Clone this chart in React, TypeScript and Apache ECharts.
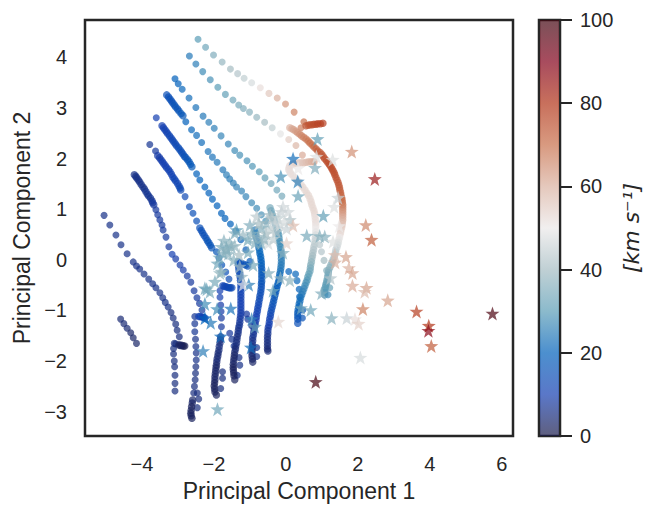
import * as echarts from "echarts";
import { useEffect, useRef } from "react";

type Pt = [number, number, number];

const xTicks = [-4, -2, 0, 2, 4, 6];
const yTicks = [-3, -2, -1, 0, 1, 2, 3, 4];
const barTicks = [0, 20, 40, 60, 80, 100];
const balance = ["#1b1b49", "#143eb1", "#0060ba", "#5a9db6", "#a5bcc2", "#ebe8e8", "#dab1a0", "#c86f4a", "#b13317", "#83001a", "#420611"];

// sparse tracks, [pc1, pc2, speed]
const trackA: Pt[] = [[-2.44,4.36,30],[-2.23,4.2,33],[-2.01,4.05,35],[-1.77,3.91,38],[-1.54,3.77,40],[-1.34,3.68,42],[-1.16,3.59,44],[-0.95,3.5,47],[-0.71,3.4,52],[-0.47,3.29,56],[-0.24,3.2,60],[-0.01,3.08,64],[0.23,2.92,67],[0.5,2.73,70],[0.42,2.61,68]];
const trackB: Pt[] = [[-2.68,4.03,24],[-2.5,3.87,25],[-2.31,3.72,27],[-2.1,3.56,28],[-1.89,3.41,30],[-1.68,3.27,31],[-1.47,3.16,33],[-1.31,3.06,34],[-1.18,2.99,35],[-1.01,2.92,36],[-0.81,2.82,38],[-0.59,2.72,40],[-0.38,2.61,44],[-0.15,2.49,49],[0.08,2.38,55],[0.28,2.26,59],[0.46,2.07,61]];
const trackC: Pt[] = [[-3.08,3.58,20],[-2.99,3.48,20],[-2.88,3.37,21],[-2.69,3.2,22],[-2.5,3.01,23],[-2.3,2.84,24],[-2.14,2.72,25],[-1.99,2.6,25],[-1.8,2.45,26],[-1.6,2.29,26],[-1.42,2.16,27],[-1.28,2.07,28],[-1.08,1.96,28],[-0.93,1.85,29],[-0.74,1.74,30],[-0.58,1.62,31],[-0.41,1.51,32],[-0.25,1.38,33],[-0.11,1.26,34]];
const trackCTail: Pt[] = [[0.08,-0.23,20],[0.27,-0.28,21],[0.31,-0.41,21],[0.37,-0.58,20],[0.38,-0.73,20],[0.47,-0.99,17],[0.46,-1.15,16]];
const trackArcSide: Pt[] = [[0.94,0.3,43],[0.99,0.16,42],[1.06,-0.01,40],[1.13,-0.21,36],[1.17,-0.4,34],[1.22,-0.55,32],[1.17,-0.69,27]];
const trackI: Pt[] = [[-4.59,-1.17,4],[-4.5,-1.26,4],[-4.41,-1.35,4],[-4.31,-1.44,3],[-4.24,-1.54,3],[-4.15,-1.65,3]];
const trackJ: Pt[] = [[-5.05,0.88,6],[-4.89,0.69,6],[-4.72,0.49,6],[-4.58,0.3,6],[-4.41,0.12,6],[-4.24,-0.04,6],[-4.15,-0.12,6],[-4.06,-0.18,6],[-3.94,-0.28,6],[-3.81,-0.38,6],[-3.7,-0.47,6],[-3.61,-0.55,6],[-3.5,-0.65,6],[-3.42,-0.75,6],[-3.35,-0.84,6],[-3.27,-0.93,6],[-3.19,-1.04,5],[-3.13,-1.15,5],[-3.06,-1.27,5],[-3.02,-1.39,5],[-2.96,-1.52,5],[-3.06,-1.66,5],[-3.1,-1.65,5],[-3.12,-1.75,5],[-3.12,-1.86,5],[-3.1,-2,5],[-3.09,-2.11,5],[-3.08,-2.28,5],[-3.08,-2.44,5],[-3.08,-2.59,5]];
const trackN: Pt[] = [[-3.61,0.99,8],[-3.56,0.89,8],[-3.5,0.79,8],[-3.44,0.69,8],[-3.41,0.59,8],[-3.33,0.45,8],[-3.25,0.26,8],[-3.16,0.11,10],[-3.06,0.02,9],[-2.94,-0.1,9],[-2.85,-0.2,9],[-2.74,-0.32,8],[-2.64,-0.44,8],[-2.55,-0.61,8],[-2.47,-0.75,8],[-2.4,-0.86,8],[-2.33,-0.99,8],[-2.53,-1.12,7],[-2.53,-1.26,7],[-2.53,-1.42,7],[-2.51,-1.57,6],[-2.5,-1.71,6],[-2.49,-1.84,6],[-2.49,-1.98,6],[-2.5,-2.11,5],[-2.51,-2.24,5],[-2.52,-2.37,5],[-2.54,-2.5,5],[-2.56,-2.63,5],[-2.46,-2.63,5],[-2.42,-2.75,5],[-2.46,-2.92,5]];
const trackK: Pt[] = [[-3.78,2.28,7],[-3.62,2.15,8],[-2.8,1.25,13],[-2.68,1.05,14],[-2.58,0.92,15],[-2.48,0.77,15],[-1.93,0.16,17],[-1.86,0.04,17],[-1.78,-0.1,16],[-1.67,-0.24,15],[-1.58,-0.38,14],[-1.83,-0.61,10],[-1.83,-0.74,10],[-1.81,-0.89,9],[-1.8,-1.02,9],[-1.79,-1.15,8],[-1.79,-1.32,8],[-1.76,-2.21,5],[-1.76,-2.34,5],[-1.81,-2.54,5]];
const trackL: Pt[] = [[-3.6,2.81,10],[-2.48,1.7,20],[-2.39,1.58,20],[-2.25,1.44,20],[-2.14,1.32,20],[-2.04,1.2,20],[-1.91,1.07,20],[-1.79,0.92,20],[-1.69,0.82,20],[-1.54,0.71,20],[-1.39,0.57,19],[-1.25,0.4,19],[-1.11,0.2,18],[-1,-0.03,18],[-1.56,-1.45,8],[-1.5,-1.57,7],[-1.44,-1.7,7],[-1.3,-1.93,6],[-1.28,-2.08,6],[-1.35,-2.28,6]];
const trackM: Pt[] = [[-2.78,2.73,20],[-2.62,2.57,21],[-2.48,2.46,22],[-2.34,2.32,22],[-2.16,2.14,23],[-2.04,2.03,23],[-1.91,1.93,24],[-1.75,1.78,24],[-1.65,1.68,25],[-1.56,1.6,25],[-1.46,1.52,25],[-1.37,1.44,26],[-1.23,1.36,26],[-1.11,1.25,26],[-0.95,1.13,27],[-0.81,1.02,27],[-0.68,0.89,28],[-0.56,0.77,28],[-1.09,-1.07,8],[-1.06,-1.17,8],[-0.95,-1.3,7],[-0.81,-1.73,7],[-0.81,-1.91,6]];

// dense stretches of the same runs
const thickArc: Pt[] = [[0.11,2.61,60],[0.17,2.59,61],[0.22,2.57,62],[0.28,2.54,63],[0.33,2.51,64],[0.39,2.48,65],[0.44,2.45,66],[0.5,2.42,67],[0.56,2.39,68],[0.62,2.35,69],[0.67,2.31,70],[0.73,2.27,70],[0.78,2.23,71],[0.84,2.19,72],[0.89,2.15,73],[0.95,2.12,73],[1,2.08,74],[1.04,2.04,74],[1.08,2,75],[1.13,1.96,75],[1.17,1.92,76],[1.21,1.88,76],[1.25,1.84,76],[1.28,1.8,76],[1.31,1.76,76],[1.34,1.72,75],[1.36,1.68,75],[1.39,1.63,75],[1.42,1.58,75],[1.45,1.53,74],[1.47,1.48,74],[1.49,1.43,73],[1.5,1.38,73],[1.52,1.33,72],[1.53,1.28,72],[1.55,1.23,71],[1.56,1.19,71],[1.57,1.14,70],[1.58,1.09,69],[1.58,1.04,67],[1.58,0.99,66],[1.58,0.94,64],[1.58,0.89,63],[1.58,0.84,61],[1.58,0.79,60],[1.57,0.74,58],[1.56,0.69,57],[1.55,0.64,55],[1.53,0.59,54],[1.52,0.54,53],[1.5,0.49,52],[1.49,0.44,50],[1.47,0.4,49],[1.46,0.35,48],[1.44,0.3,47],[1.42,0.25,46],[1.39,0.2,45],[1.38,0.15,44],[1.36,0.1,43],[1.34,0.05,42],[1.31,0,41],[1.28,-0.05,39],[1.25,-0.1,38],[1.22,-0.15,37],[1.19,-0.2,36],[1.18,-0.25,35],[1.17,-0.3,34],[1.16,-0.35,33],[1.14,-0.4,33],[1.13,-0.45,32],[1.11,-0.49,31],[1.1,-0.54,30],[1.08,-0.59,30],[1.08,-0.64,29],[1.08,-0.69,28]];
const thickRed: Pt[] = [[0.56,2.65,74],[0.62,2.66,74],[0.67,2.67,75],[0.73,2.67,75],[0.78,2.68,76],[0.84,2.68,76],[0.89,2.69,77],[0.96,2.69,77],[1.03,2.7,78]];
const thickInner: Pt[] = [[0.78,1.94,62],[0.71,1.94,61],[0.64,1.94,60],[0.57,1.93,59],[0.5,1.92,58],[0.43,1.92,57],[0.36,1.92,56],[0.29,1.91,55],[0.22,1.9,55],[0.16,1.88,54],[0.11,1.86,53],[0.09,1.82,52],[0.08,1.78,52],[0.11,1.74,52],[0.14,1.7,52],[0.2,1.66,52],[0.25,1.62,52],[0.3,1.58,52],[0.36,1.54,52],[0.42,1.49,52],[0.47,1.44,53],[0.53,1.38,53],[0.58,1.32,53],[0.63,1.27,53],[0.67,1.21,53],[0.7,1.15,53],[0.72,1.09,53],[0.75,1.03,53],[0.78,0.97,53],[0.8,0.91,53],[0.81,0.85,52],[0.82,0.79,52],[0.83,0.73,52],[0.83,0.67,51],[0.83,0.61,50],[0.83,0.55,49],[0.83,0.49,47],[0.82,0.44,46],[0.81,0.38,45],[0.8,0.32,44],[0.78,0.26,43],[0.77,0.2,42],[0.75,0.14,41],[0.74,0.08,40],[0.72,0.02,39],[0.71,-0.04,37],[0.69,-0.1,36],[0.68,-0.16,34],[0.67,-0.22,33],[0.64,-0.28,31],[0.61,-0.34,30],[0.59,-0.4,29],[0.56,-0.45,28],[0.53,-0.51,27],[0.5,-0.57,26],[0.47,-0.63,25],[0.44,-0.69,24],[0.41,-0.75,23],[0.39,-0.81,22],[0.37,-0.87,21],[0.36,-0.93,20],[0.34,-0.99,19],[0.33,-1.05,18],[0.33,-1.11,17],[0.33,-1.17,16],[0.33,-1.25,15]];
const thickD: Pt[] = [[-0.86,0.59,25],[-0.85,0.53,25],[-0.83,0.47,24],[-0.8,0.41,23],[-0.78,0.36,23],[-0.76,0.3,22],[-0.75,0.24,22],[-0.73,0.18,21],[-0.72,0.12,21],[-0.7,0.06,20],[-0.69,0,20],[-0.68,-0.06,19],[-0.68,-0.12,19],[-0.67,-0.18,18],[-0.67,-0.24,18],[-0.67,-0.3,17],[-0.67,-0.36,17],[-0.67,-0.42,16],[-0.68,-0.47,16],[-0.68,-0.53,15],[-0.69,-0.59,15],[-0.7,-0.65,14],[-0.72,-0.71,14],[-0.73,-0.77,13],[-0.75,-0.83,13],[-0.76,-0.89,12],[-0.78,-0.95,12],[-0.79,-1.01,11],[-0.81,-1.07,11],[-0.82,-1.13,10],[-0.83,-1.19,10],[-0.85,-1.25,9],[-0.86,-1.3,9],[-0.88,-1.36,8],[-0.89,-1.42,8],[-0.9,-1.48,7],[-0.92,-1.54,7],[-0.92,-1.6,6],[-0.93,-1.66,6],[-0.93,-1.72,5],[-0.94,-1.78,5],[-0.94,-1.84,4],[-0.94,-1.9,4],[-0.93,-1.96,3],[-0.92,-2.02,3]];
const thickE: Pt[] = [[-0.44,1.03,34],[-0.41,0.97,33],[-0.39,0.91,33],[-0.36,0.85,32],[-0.33,0.79,32],[-0.3,0.73,31],[-0.28,0.67,31],[-0.25,0.61,30],[-0.22,0.55,30],[-0.2,0.49,29],[-0.19,0.43,29],[-0.18,0.37,28],[-0.17,0.32,28],[-0.15,0.26,27],[-0.14,0.2,27],[-0.13,0.14,26],[-0.125,0.08,26],[-0.125,0.02,25],[-0.125,-0.04,25],[-0.13,-0.1,24],[-0.14,-0.16,24],[-0.15,-0.22,23],[-0.17,-0.28,22],[-0.18,-0.34,21],[-0.19,-0.4,20],[-0.21,-0.45,19],[-0.24,-0.51,19],[-0.26,-0.57,18],[-0.28,-0.63,18],[-0.3,-0.69,17],[-0.32,-0.75,17],[-0.34,-0.81,16],[-0.36,-0.87,16],[-0.38,-0.93,15],[-0.4,-0.99,14],[-0.42,-1.05,13],[-0.43,-1.11,12],[-0.45,-1.17,11],[-0.46,-1.23,11],[-0.47,-1.29,10],[-0.49,-1.34,9],[-0.5,-1.4,8],[-0.5,-1.46,7],[-0.51,-1.52,6],[-0.51,-1.58,6],[-0.51,-1.64,5],[-0.51,-1.7,5],[-0.51,-1.76,4],[-0.5,-1.8,4]];
const thickF: Pt[] = [[-1.06,-0.12,16],[-1.12,-0.1,16],[-1.19,-0.08,16],[-1.26,-0.06,15],[-1.33,-0.04,15],[-1.32,-0.1,15],[-1.31,-0.16,14],[-1.3,-0.22,14],[-1.28,-0.28,14],[-1.27,-0.34,13],[-1.26,-0.4,13],[-1.25,-0.45,13],[-1.25,-0.51,13],[-1.25,-0.57,12],[-1.25,-0.63,12],[-1.25,-0.69,11],[-1.25,-0.75,11],[-1.25,-0.81,10],[-1.25,-0.87,10],[-1.25,-0.93,10],[-1.25,-0.99,10],[-1.25,-1.05,9],[-1.26,-1.11,9],[-1.27,-1.17,8],[-1.28,-1.23,8],[-1.29,-1.29,7],[-1.31,-1.34,7],[-1.32,-1.4,6],[-1.33,-1.46,6],[-1.35,-1.52,5],[-1.36,-1.58,5],[-1.37,-1.64,5],[-1.39,-1.7,5],[-1.4,-1.76,4],[-1.42,-1.82,4],[-1.43,-1.88,3],[-1.44,-1.94,3],[-1.45,-2,3],[-1.46,-2.06,3],[-1.46,-2.12,2],[-1.46,-2.17,2],[-1.45,-2.23,2],[-1.44,-2.29,2],[-1.42,-2.37,2]];
const thickG: Pt[] = [[-1.81,-1.52,6],[-1.82,-1.58,6],[-1.83,-1.64,5],[-1.85,-1.71,5],[-1.86,-1.78,5],[-1.88,-1.84,4],[-1.89,-1.9,4],[-1.91,-1.96,4],[-1.92,-2.02,4],[-1.93,-2.08,3],[-1.94,-2.13,3],[-1.95,-2.19,3],[-1.96,-2.25,3],[-1.97,-2.31,3],[-1.97,-2.37,3],[-1.98,-2.43,2],[-1.99,-2.49,2],[-1.98,-2.55,2],[-1.97,-2.61,2],[-1.93,-2.67,2]];
const thickH: Pt[] = [[-2.59,-2.77,3],[-2.6,-2.83,3],[-2.62,-2.9,2],[-2.63,-2.97,2],[-2.64,-3.03,2],[-2.63,-3.08,2],[-2.61,-3.13,2]];
const thickHook: Pt[] = [[-2.81,-1.7,1],[-2.85,-1.7,1],[-2.89,-1.69,1],[-2.93,-1.69,2],[-2.97,-1.68,2]];
const thickN: Pt[] = [[-4.21,1.68,6],[-4.17,1.65,6],[-4.14,1.62,6],[-4.1,1.58,6],[-4.06,1.54,6],[-4.02,1.49,6],[-3.97,1.44,6],[-3.93,1.4,6],[-3.89,1.35,7],[-3.85,1.3,7],[-3.81,1.26,7],[-3.76,1.22,7],[-3.72,1.17,7],[-3.7,1.13,8],[-3.67,1.09,8]];
const thickNHook: Pt[] = [[-2.25,-1.15,12],[-2.29,-1.14,12],[-2.33,-1.13,12],[-2.38,-1.12,11],[-2.42,-1.12,11]];
const thickK: Pt[] = [[-3.56,2.06,9],[-3.51,2.02,9],[-3.47,1.98,9],[-3.43,1.94,10],[-3.39,1.9,10],[-3.35,1.86,10],[-3.31,1.82,10],[-3.26,1.78,11],[-3.22,1.74,11],[-3.18,1.69,11],[-3.14,1.64,11],[-3.1,1.6,12],[-3.06,1.56,12],[-3.01,1.51,12],[-2.97,1.46,12],[-2.94,1.42,13],[-2.92,1.38,13]];
const thickK2: Pt[] = [[-2.39,0.63,15],[-2.35,0.58,15],[-2.31,0.53,15],[-2.27,0.48,15],[-2.22,0.43,15],[-2.18,0.38,16],[-2.14,0.34,16],[-2.1,0.29,16],[-2.06,0.24,16]];
const thickKHook: Pt[] = [[-1.5,-0.55,13],[-1.54,-0.55,13],[-1.58,-0.55,13],[-1.62,-0.54,13],[-1.67,-0.53,13],[-1.71,-0.52,12],[-1.75,-0.51,12]];
const thickL: Pt[] = [[-3.44,2.65,10],[-3.4,2.61,10],[-3.36,2.57,11],[-3.32,2.53,11],[-3.28,2.49,11],[-3.23,2.45,12],[-3.19,2.41,12],[-3.15,2.37,12],[-3.11,2.33,13],[-3.07,2.29,13],[-3.03,2.25,13],[-2.98,2.21,14],[-2.94,2.17,14],[-2.9,2.13,14],[-2.86,2.09,15],[-2.82,2.05,15],[-2.78,2.02,16],[-2.73,1.98,16],[-2.69,1.94,17],[-2.65,1.89,17],[-2.61,1.84,18]];
const thickM: Pt[] = [[-3.31,3.26,15],[-3.26,3.22,15],[-3.22,3.18,15],[-3.18,3.14,15],[-3.14,3.1,15],[-3.1,3.06,16],[-3.06,3.02,16],[-3.01,2.98,16],[-2.97,2.94,16],[-2.91,2.89,17],[-2.86,2.85,17]];

const stars: Pt[] = [[5.74,-1.06,98],[0.83,-2.41,99],[2.47,1.6,85],[1.83,2.14,65],[2.22,0.69,66],[2.38,0.4,73],[1.67,0.06,62],[1.37,-0.05,60],[1.75,-0.16,60],[1.85,-0.26,62],[1.85,-0.51,61],[2.24,-0.55,62],[2.19,-0.63,58],[2.83,-0.8,62],[2.14,-0.97,67],[3.63,-1.02,78],[3.97,-1.3,80],[3.96,-1.4,88],[4.04,-1.7,73],[2.07,-1.93,47],[1.27,-1.15,36],[1.69,-1.15,45],[1.92,-1.17,52],[2.02,-1.26,54],[0.69,-0.99,33],[0.42,-0.95,34],[-0.21,-1.22,53],[0.99,-0.66,35],[1.24,-0.36,42],[0.11,-0.4,37],[-0.15,-0.36,38],[-0.36,-0.61,33],[-0.48,-0.26,35],[-1.03,-0.49,25],[-0.86,-1.32,32],[-0.95,-1.17,25],[-0.97,-1.73,22],[-1.9,-2.95,33],[-2.3,-1.8,25],[-1.81,-1.51,22],[-2.09,-1.24,24],[-2.25,-1.15,20],[-1.91,-0.97,27],[-1.53,-0.96,23],[-2.25,-0.87,27],[-2.2,-0.58,32],[-1.97,-0.43,34],[-1.83,-0.26,37],[-1.9,-0.07,33],[-1.74,0.13,35],[-1.56,0.33,37],[-1.65,0.23,34],[-1.37,0.59,30],[-1,0.69,35],[0.2,2,22],[-0.14,1.65,28],[0.33,1.55,25],[0.34,1.26,32],[-0.81,0.86,43],[-0.08,1.05,46],[0.11,0.79,41],[0.2,0.68,58],[-0.44,0.89,40],[-1.42,0.53,35],[0.88,2.39,31],[1.3,1.98,48],[0.85,2.04,48],[0.81,1.82,35],[0.34,1.81,50],[1.45,1.23,45],[1.34,1.05,48],[1.04,0.87,31],[1.48,0.67,50],[0.58,0.48,34],[0.94,0.47,36],[1.08,0.46,36],[1.31,0.36,48],[0.02,0.33,54],[-0.08,0.14,36],[1.36,0.1,58],[-1.79,0.26,35],[-1.51,0.26,36],[-1.65,0.2,37],[-1.79,-0.23,37],[-2.25,-0.56,32],[-2.11,-0.63,34],[-1.28,-0.13,40],[-1.23,-0.33,38],[-0.91,-0.1,34],[-0.68,0.33,36],[-0.49,0.33,47],[-0.77,0.46,38],[-0.54,0.73,38],[-0.26,0.56,42],[-0.12,0.95,45],[0.06,0.95,46],[-1.19,0.49,38],[-1.19,-0.49,50],[-0.17,0.69,47],[-0.67,0.63,36],[-0.39,0.83,42],[-0.22,0.83,44],[-0.86,0.34,36],[-1.06,0.4,34],[-1.72,0.38,36],[-1.6,0.12,36],[-1.42,0.28,38],[-1.85,0.05,34],[-0.55,0.52,40],[-0.42,0.6,44],[-0.6,0.42,38],[-0.3,0.72,46],[-0.75,0.72,40],[-0.05,0.75,47],[0.02,0.62,45],[-0.95,0.52,37],[-1.3,0.1,40],[-1.45,0,36],[-1.05,0.15,34],[-0.35,0.42,44]];

const dots = [...trackA, ...trackB, ...trackC, ...trackCTail, ...trackArcSide, ...trackI, ...trackJ, ...trackN, ...trackK, ...trackL, ...trackM];
const thick = [...thickArc, ...thickRed, ...thickInner, ...thickD, ...thickE, ...thickF, ...thickG, ...thickH, ...thickHook, ...thickN, ...thickNHook, ...thickK, ...thickK2, ...thickKHook, ...thickL, ...thickM];

const starPath = "path://M50 2 L62 36 L98 37 L69 58 L80 94 L50 73 L20 94 L31 58 L2 37 L38 36 Z";
const ink = "#262626";
const font = "Liberation Sans";
const minus = (v: number) => String(v).replace("-", "\u2212");

export default function App() {
	const chartRef = useRef<HTMLDivElement>(null);

	useEffect(() => {
		if (!chartRef.current) return;
		const chart = echarts.init(chartRef.current, null, { renderer: "svg" });
		chart.setOption({
			animation: false,
			backgroundColor: "#fff",
			textStyle: { fontFamily: font },
			grid: [
				{ left: 85, top: 20, width: 428, height: 416, show: true, borderColor: ink, borderWidth: 2.5 },
				{ left: 539, top: 20, width: 21, height: 416, show: true, borderColor: ink, borderWidth: 2.5 },
			],
			xAxis: [
				{
					type: "value",
					gridIndex: 0,
					min: -5.58,
					max: 6.31,
					name: "Principal Component 1",
					nameLocation: "middle",
					nameGap: 43,
					nameTextStyle: { fontSize: 23, color: ink, fontFamily: font },
					axisLine: { show: false },
					axisTick: { show: false, customValues: xTicks },
					splitLine: { show: false },
					axisLabel: { customValues: xTicks, formatter: minus, fontSize: 20, color: ink, margin: 18, fontFamily: font },
				},
				{ type: "category", gridIndex: 1, data: [""], show: false },
			],
			yAxis: [
				{
					type: "value",
					gridIndex: 0,
					min: -3.48,
					max: 4.74,
					name: "Principal Component 2",
					nameLocation: "middle",
					nameGap: 51,
					nameTextStyle: { fontSize: 23, color: ink, fontFamily: font },
					axisLine: { show: false },
					axisTick: { show: false, customValues: yTicks },
					splitLine: { show: false },
					axisLabel: { customValues: yTicks, formatter: minus, fontSize: 20, color: ink, margin: 18, fontFamily: font },
				},
				{
					type: "value",
					gridIndex: 1,
					position: "right",
					min: 0,
					max: 100,
					name: "[km s\u207B\u00B9]",
					nameLocation: "middle",
					nameGap: 60,
					nameRotate: 90,
					nameTextStyle: { fontSize: 22, color: ink, fontFamily: "DejaVu Sans", fontStyle: "italic" },
					axisLine: { show: false },
					axisTick: { show: true, length: 12, lineStyle: { color: ink, width: 2 }, customValues: barTicks },
					splitLine: { show: false },
					axisLabel: { customValues: barTicks, fontSize: 20, color: ink, margin: 20, fontFamily: font },
				},
			],
			visualMap: {
				type: "continuous",
				show: false,
				min: 0,
				max: 100,
				dimension: 2,
				seriesIndex: [0, 1, 2],
				inRange: { color: balance },
			},
			series: [
				{ type: "scatter", data: dots, symbolSize: 7, itemStyle: { opacity: 0.7 }, xAxisIndex: 0, yAxisIndex: 0, z: 2 },
				{ type: "scatter", data: thick, symbolSize: 7.5, itemStyle: { opacity: 0.7 }, xAxisIndex: 0, yAxisIndex: 0, z: 3 },
				{ type: "scatter", data: stars, symbol: starPath, symbolSize: 14, itemStyle: { opacity: 0.7 }, xAxisIndex: 0, yAxisIndex: 0, z: 4 },
				{
					type: "bar",
					xAxisIndex: 1,
					yAxisIndex: 1,
					data: [100],
					barWidth: 19,
					itemStyle: {
						opacity: 0.7,
						color: new echarts.graphic.LinearGradient(
							0,
							1,
							0,
							0,
							balance.map((c, i) => ({ offset: i / (balance.length - 1), color: c })),
						),
					},
				},
			],
		});
		return () => chart.dispose();
	}, []);

	return <div ref={chartRef} style={{ position: "absolute", left: 0, top: 0, width: 662, height: 517 }} />;
}
